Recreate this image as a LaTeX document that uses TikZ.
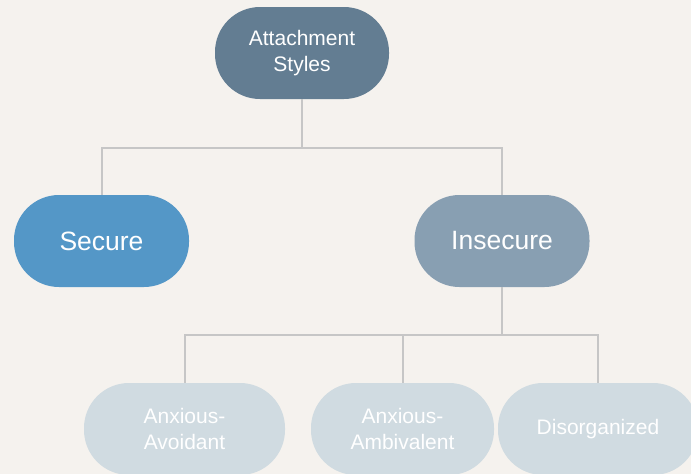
\documentclass[tikz,border=0pt]{standalone}
\usepackage{fontspec}
\setmainfont{Liberation Sans}
\definecolor{bgc}{HTML}{F5F2EE}
\definecolor{rootc}{HTML}{637D92}
\definecolor{securec}{HTML}{5497C7}
\definecolor{insecc}{HTML}{889FB2}
\definecolor{childc}{HTML}{D0DBE1}
\definecolor{linec}{HTML}{C6C6C6}
\begin{document}
\begin{tikzpicture}[x=1pt,y=1pt,
  pill/.style={rectangle, rounded corners=45pt, minimum height=92pt, inner sep=0pt,
    text=white, align=center},
  smalltext/.style={font=\fontsize{21}{25.6}\selectfont},
  bigtext/.style={font=\fontsize{26.5}{30}\selectfont},
  conn/.style={draw=linec, line width=2pt}]
\clip (0,0) rectangle (691,-474);
\fill[bgc] (0,0) rectangle (691,-474);
% junctions
\coordinate (j1) at (302,-148);
\coordinate (j2) at (502,-335);
% nodes
\node[pill, smalltext, fill=rootc, minimum width=174pt] (root) at (302,-53) {Attachment\\Styles};
\node[pill, bigtext, fill=securec, minimum width=175pt] (secure) at (101.5,-241) {Secure};
\node[pill, bigtext, fill=insecc, minimum width=175pt] (insecure) at (502,-241) {Insecure};
\node[pill, smalltext, fill=childc, minimum width=201pt] (avoid) at (184.5,-429) {Anxious-\\Avoidant};
\node[pill, smalltext, fill=childc, minimum width=183pt] (ambiv) at (402.5,-429) {Anxious-\\Ambivalent};
\node[pill, smalltext, fill=childc, minimum width=200pt] (disorg) at (598,-429) {Disorganized};
% connectors
\draw[conn] (root.south) -- (j1);
\draw[conn] (j1) -| (secure.north);
\draw[conn] (j1) -| (insecure.north);
\draw[conn] (insecure.south) -- (j2);
\draw[conn] (j2) -| (avoid.north);
\draw[conn] (j2) -| (ambiv.north);
\draw[conn] (j2) -| (disorg.north);
\end{tikzpicture}
\end{document}
